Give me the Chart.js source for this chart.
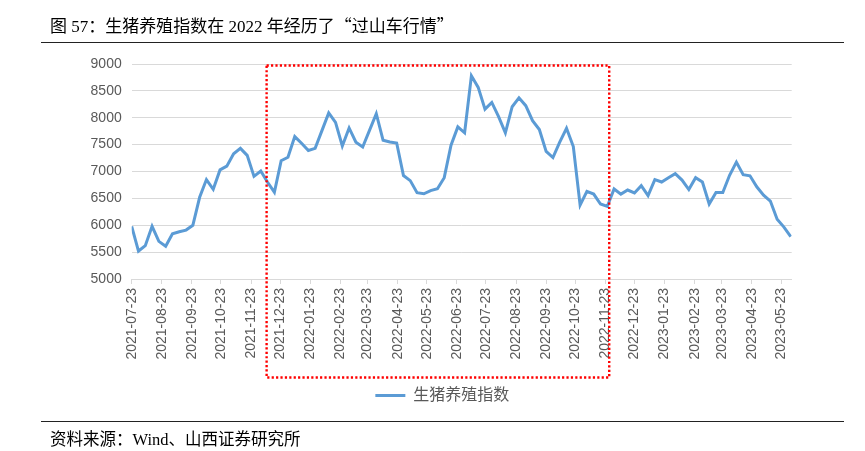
<!DOCTYPE html>
<html>
<head>
<meta charset="utf-8">
<script src="https://cdn.jsdelivr.net/npm/chart.js@4.4.1/dist/chart.umd.min.js"></script>
<style>
  html, body { margin: 0; padding: 0; background: #fff; }
  #wrap { position: relative; width: 865px; height: 451px; overflow: hidden; background: #fff; }
  #chart { position: absolute; left: 0; top: 0; }
  .note { position: absolute; left: 50px; font-family: "Liberation Serif", "Noto Sans CJK SC", serif; color: #000; white-space: nowrap; line-height: 20px; }
  .cjk { font-family: "Noto Sans CJK SC", sans-serif; }
  .rule { position: absolute; left: 41px; width: 803px; height: 0; border-top: 1.3px solid #222; }
</style>
</head>
<body>
<div id="wrap">
  <canvas id="chart" width="865" height="451"></canvas>
  <div class="note" style="top:15px; font-size:17px">图 57：生猪养殖指数在 2022 年经历了<span class="cjk">“</span>过山车行情<span class="cjk">”</span></div>
  <div class="rule" style="top:42px"></div>
  <div class="rule" style="top:421px"></div>
  <div class="note" style="top:430px; font-size:16.5px">资料来源：Wind、山西证券研究所</div>
</div>
<script>
// weekly index, first week 2021-07-23
const startDate = '2021-07-23';
const seriesName = '生猪养殖指数';
const indexValues = [
  5980, 5520, 5620, 5980, 5700, 5610, 5840, 5880, 5910, 6000,
  6520, 6850, 6670, 7030, 7100, 7330, 7430, 7300, 6910, 7010,
  6800, 6615, 7200, 7265, 7650, 7525, 7390, 7430, 7760, 8090,
  7915, 7475, 7810, 7545, 7455, 7765, 8075, 7580, 7550, 7530,
  6925, 6830, 6605, 6585, 6645, 6680, 6885, 7490, 7830, 7720,
  8780, 8565, 8160, 8285, 8020, 7720, 8205, 8370, 8225, 7945,
  7780, 7375, 7260, 7545, 7805, 7465, 6375, 6630, 6580, 6395,
  6350, 6675, 6580, 6655, 6600, 6735, 6550, 6850, 6805, 6885,
  6960, 6840, 6665, 6885, 6805, 6395, 6610, 6610, 6930, 7175,
  6940, 6920, 6715, 6560, 6450, 6110, 5965, 5790
];
const tickLabels = [
  '2021-07-23', '2021-08-23', '2021-09-23', '2021-10-23', '2021-11-23', '2021-12-23',
  '2022-01-23', '2022-02-23', '2022-03-23', '2022-04-23', '2022-05-23', '2022-06-23',
  '2022-07-23', '2022-08-23', '2022-09-23', '2022-10-23', '2022-11-23', '2022-12-23',
  '2023-01-23', '2023-02-23', '2023-03-23', '2023-04-23', '2023-05-23'
];
// dotted box marking the 2022 swing
const highlightRange = ['2021-12-09', '2022-11-27'];

const DAY = 86400000;
const t0 = Date.parse(startDate + 'T00:00:00Z');
const dayOf = s => Math.round((Date.parse(s + 'T00:00:00Z') - t0) / DAY);
const points = indexValues.map((v, i) => ({ x: i * 7, y: v }));

const highlightBox = {
  id: 'highlightBox',
  afterLayout(chart) {
    // legend sits a little right of the canvas centre
    chart.legend.left += 5;
    chart.legend.right += 5;
  },
  afterDatasetsDraw(chart) {
    const { ctx, scales: { x, y } } = chart;
    const left = x.getPixelForValue(dayOf(highlightRange[0]));
    const right = x.getPixelForValue(dayOf(highlightRange[1]));
    const top = y.getPixelForValue(y.max) + 1.5;
    const bottom = x.bottom;
    ctx.save();
    ctx.strokeStyle = '#ff0000';
    ctx.lineWidth = 2.4;
    ctx.setLineDash([2.2, 2.2]);
    ctx.strokeRect(left, top, right - left, bottom - top);
    ctx.restore();
  }
};

Chart.defaults.font.family = '"Liberation Sans", "Noto Sans CJK SC", sans-serif';

new Chart(document.getElementById('chart'), {
  type: 'line',
  data: {
    datasets: [{
      label: seriesName,
      data: points,
      borderColor: '#5b9bd5',
      backgroundColor: '#5b9bd5',
      borderWidth: 3,
      pointRadius: 0,
      pointStyle: 'line',
      tension: 0
    }]
  },
  options: {
    responsive: false,
    animation: false,
    layout: { padding: { left: 83, right: 73.3, top: 64, bottom: 37.5 } },
    scales: {
      x: {
        type: 'linear',
        min: 0,
        max: points[points.length - 1].x + 1,
        afterBuildTicks: s => { s.ticks = tickLabels.map(d => ({ value: dayOf(d) })); },
        afterFit: s => { s.height = 98.5; },
        grid: { drawOnChartArea: false, drawTicks: true, tickLength: 5, color: '#d9d9d9' },
        border: { display: true, color: '#d9d9d9' },
        ticks: {
          autoSkip: false, minRotation: 90, maxRotation: 90, padding: 4,
          color: '#595959', font: { size: 14 },
          callback: (v, i) => tickLabels[i]
        }
      },
      y: {
        min: 5000,
        max: 9000,
        afterFit: s => { s.width = 48.7; },
        grid: { color: '#d9d9d9', drawTicks: false },
        border: { display: false },
        ticks: { stepSize: 500, padding: 10, color: '#595959', font: { size: 14 }, callback: v => String(v) }
      }
    },
    plugins: {
      legend: {
        position: 'bottom',
        labels: { usePointStyle: true, pointStyleWidth: 30, color: '#595959', font: { size: 16 }, padding: 10 }
      },
      tooltip: { enabled: false }
    }
  },
  plugins: [highlightBox]
});
</script>
</body>
</html>
